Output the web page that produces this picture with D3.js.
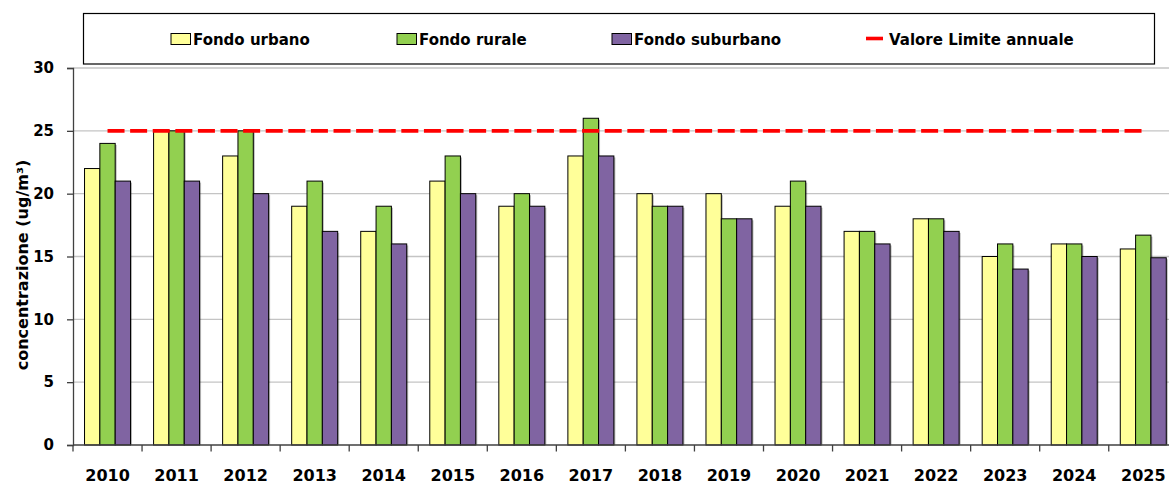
<!DOCTYPE html>
<html lang="it">
<head>
<meta charset="utf-8">
<title>Concentrazione annuale</title>
<script src="https://cdn.jsdelivr.net/npm/d3@7"></script>
<style>
  body { margin: 0; background: #fff; }
  svg { display: block; font-family: "DejaVu Sans", sans-serif; font-weight: bold; }
</style>
</head>
<body>
<svg id="chart" width="1169" height="484"></svg>
<script>
// data
const years = ['2010', '2011', '2012', '2013', '2014', '2015', '2016', '2017',
               '2018', '2019', '2020', '2021', '2022', '2023', '2024', '2025'];
const urbano    = [22, 25, 23, 19, 17, 21, 19, 23, 20, 20, 19, 17, 18, 15, 16, 15.6];
const rurale    = [24, 25, 25, 21, 19, 23, 20, 26, 19, 18, 21, 17, 18, 16, 16, 16.7];
const suburbano = [21, 21, 20, 17, 16, 20, 19, 23, 19, 18, 19, 16, 17, 14, 15, 14.9];
const limite = 25;
const yTicks = [0, 5, 10, 15, 20, 25, 30];

const series = [
  { name: 'Fondo urbano', values: urbano, color: '#FFFF99' },
  { name: 'Fondo rurale', values: rurale, color: '#92D050' },
  { name: 'Fondo suburbano', values: suburbano, color: '#8064A2' }
];

const svg = d3.select('#chart');
const plotLeft = 73, plotTop = 68, plotBottom = 445;
const step = 69.05;

const x = d3.scaleBand().domain(years).range([plotLeft, plotLeft + step * years.length]);
const xInner = d3.scaleBand().domain(series.map(s => s.name))
  .range([0, x.bandwidth()]).paddingInner(0).paddingOuter(0.752);
const y = d3.scaleLinear().domain([0, 30]).range([plotBottom, plotTop]);

// gridlines
svg.append('g')
  .selectAll('line')
  .data(yTicks.filter(t => t > 0))
  .join('line')
  .attr('x1', plotLeft).attr('x2', 1169)
  .attr('y1', d => y(d)).attr('y2', d => y(d))
  .attr('stroke', '#c4c4c4').attr('stroke-width', 1.3);

// bars, with a light shadow like the original
const groups = svg.append('g')
  .selectAll('g')
  .data(years)
  .join('g')
  .attr('transform', d => `translate(${x(d)},0)`);

const barData = (d, i) => series.map(s => ({ name: s.name, v: s.values[i], color: s.color }));

groups.selectAll('rect.shadow')
  .data(barData)
  .join('rect')
  .attr('class', 'shadow')
  .attr('x', d => xInner(d.name) + 1.5)
  .attr('y', d => y(d.v) + 1.5)
  .attr('width', xInner.bandwidth())
  .attr('height', d => plotBottom - y(d.v) - 1.5)
  .attr('fill', '#000').attr('opacity', 0.28);

groups.selectAll('rect.bar')
  .data(barData)
  .join('rect')
  .attr('class', 'bar')
  .attr('x', d => xInner(d.name))
  .attr('y', d => y(d.v))
  .attr('width', xInner.bandwidth())
  .attr('height', d => plotBottom - y(d.v))
  .attr('fill', d => d.color)
  .attr('stroke', '#000').attr('stroke-width', 1);

// limit line
svg.append('line')
  .attr('x1', x(years[0]) + x.bandwidth() / 2)
  .attr('x2', x(years[years.length - 1]) + x.bandwidth() / 2)
  .attr('y1', y(limite)).attr('y2', y(limite))
  .attr('stroke', '#FF0000').attr('stroke-width', 3.6)
  .attr('stroke-dasharray', '17,5.6');

// y axis
const yAxis = svg.append('g')
  .attr('transform', `translate(${plotLeft},0)`)
  .call(d3.axisLeft(y).tickValues(yTicks).tickSize(6).tickPadding(13));
yAxis.select('.domain').attr('stroke', '#404040').attr('stroke-width', 1.3);
yAxis.selectAll('.tick line').attr('stroke', '#404040').attr('stroke-width', 1.3);
yAxis.selectAll('.tick text')
  .attr('fill', '#000').style('font-size', '15px').style('font-family', '"DejaVu Sans", sans-serif')
  .style('font-weight', 'bold');

// x axis
const xAxis = svg.append('g')
  .attr('transform', `translate(0,${plotBottom})`)
  .call(d3.axisBottom(x).tickSize(0).tickPadding(0));
xAxis.select('.domain').remove();
xAxis.append('line')
  .attr('x1', plotLeft).attr('x2', 1169)
  .attr('stroke', '#404040').attr('stroke-width', 1.3);
xAxis.selectAll('.tick text')
  .attr('y', 35.5).attr('dy', 0)
  .attr('fill', '#000').style('font-size', '16px').style('font-family', '"DejaVu Sans", sans-serif')
  .style('font-weight', 'bold');
xAxis.append('g')
  .selectAll('line')
  .data(years)
  .join('line')
  .attr('x1', d => x(d)).attr('x2', d => x(d))
  .attr('y1', 0).attr('y2', 6.5)
  .attr('stroke', '#404040').attr('stroke-width', 1.3);

// y title
svg.append('text')
  .attr('transform', 'translate(28,265) rotate(-90)')
  .attr('text-anchor', 'middle')
  .style('font-size', '16px')
  .text('concentrazione (ug/m³)');

// legend
svg.append('rect')
  .attr('x', 83.5).attr('y', 13.5).attr('width', 1071).attr('height', 50.5)
  .attr('fill', '#fff').attr('stroke', '#000').attr('stroke-width', 1.2);

const legendX = [171, 397, 612];
series.forEach((s, i) => {
  svg.append('rect')
    .attr('x', legendX[i]).attr('y', 33.5).attr('width', 19.5).attr('height', 11)
    .attr('fill', s.color).attr('stroke', '#000').attr('stroke-width', 1);
  svg.append('text')
    .attr('x', legendX[i] + 22).attr('y', 44.5)
    .style('font-size', '15px')
    .text(s.name);
});
svg.append('line')
  .attr('x1', 866).attr('x2', 883).attr('y1', 38.5).attr('y2', 38.5)
  .attr('stroke', '#FF0000').attr('stroke-width', 3.6);
svg.append('text')
  .attr('x', 889).attr('y', 44.5)
  .style('font-size', '15px')
  .text('Valore Limite annuale');
</script>
</body>
</html>
